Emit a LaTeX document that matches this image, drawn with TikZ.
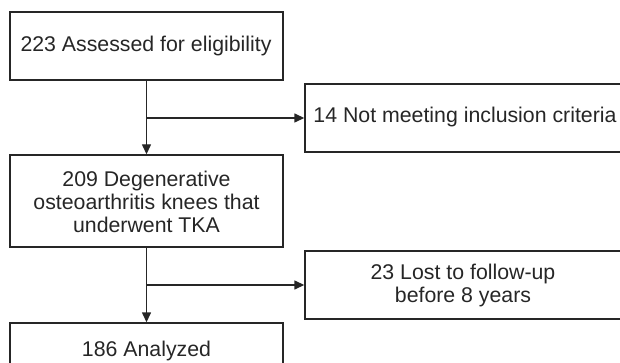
\documentclass[tikz,border=0pt]{standalone}
\usepackage{fontspec}
\setmainfont{Liberation Sans}
\usetikzlibrary{arrows.meta}
\begin{document}
\begin{tikzpicture}[x=1pt,y=-1pt,
  box/.style={draw=black!85,line width=1.4pt,rectangle,inner sep=0pt},
  lbl/.style={draw=none,inner sep=0pt,align=center,font=\fontsize{21.3}{23}\selectfont,text=black!85},
  arr/.style={line width=1.4pt,draw=black!85,-{Triangle[length=10pt,width=9pt]}}]
\useasboundingbox (0,0) rectangle (620,363);
\begin{scope}
\clip (0,0) rectangle (620,363);
\node[box,minimum width=273pt,minimum height=68pt] (a) at (146.5,46) {};
\node[lbl] (at) at (146,46) {223 Assessed for eligibility};
\node[box,minimum width=318pt,minimum height=68pt] (b) at (464,118) {};
\node[lbl] (bt) at (465,117) {14 Not meeting inclusion criteria};
\node[box,minimum width=273pt,minimum height=92pt] (c) at (146.5,201) {};
\node[lbl] (ct) at (146.5,202) {209 Degenerative\\osteoarthritis knees that\\underwent TKA};
\node[box,minimum width=318pt,minimum height=68pt] (d) at (464,285) {};
\node[lbl] (dt) at (463,285) {23 Lost to follow-up\\before 8 years};
\node[box,minimum width=273pt,minimum height=56pt] (e) at (146.5,351) {};
\node[lbl] (et) at (146.5,351) {186 Analyzed};
\coordinate (j1) at (a.south |- b.west);
\coordinate (j2) at (c.south |- d.west);
\draw[arr] (a.south) -- (c.north);
\draw[arr] (j1) -- (b.west);
\draw[arr] (c.south) -- (e.north);
\draw[arr] (j2) -- (d.west);
\end{scope}
\end{tikzpicture}
\end{document}
